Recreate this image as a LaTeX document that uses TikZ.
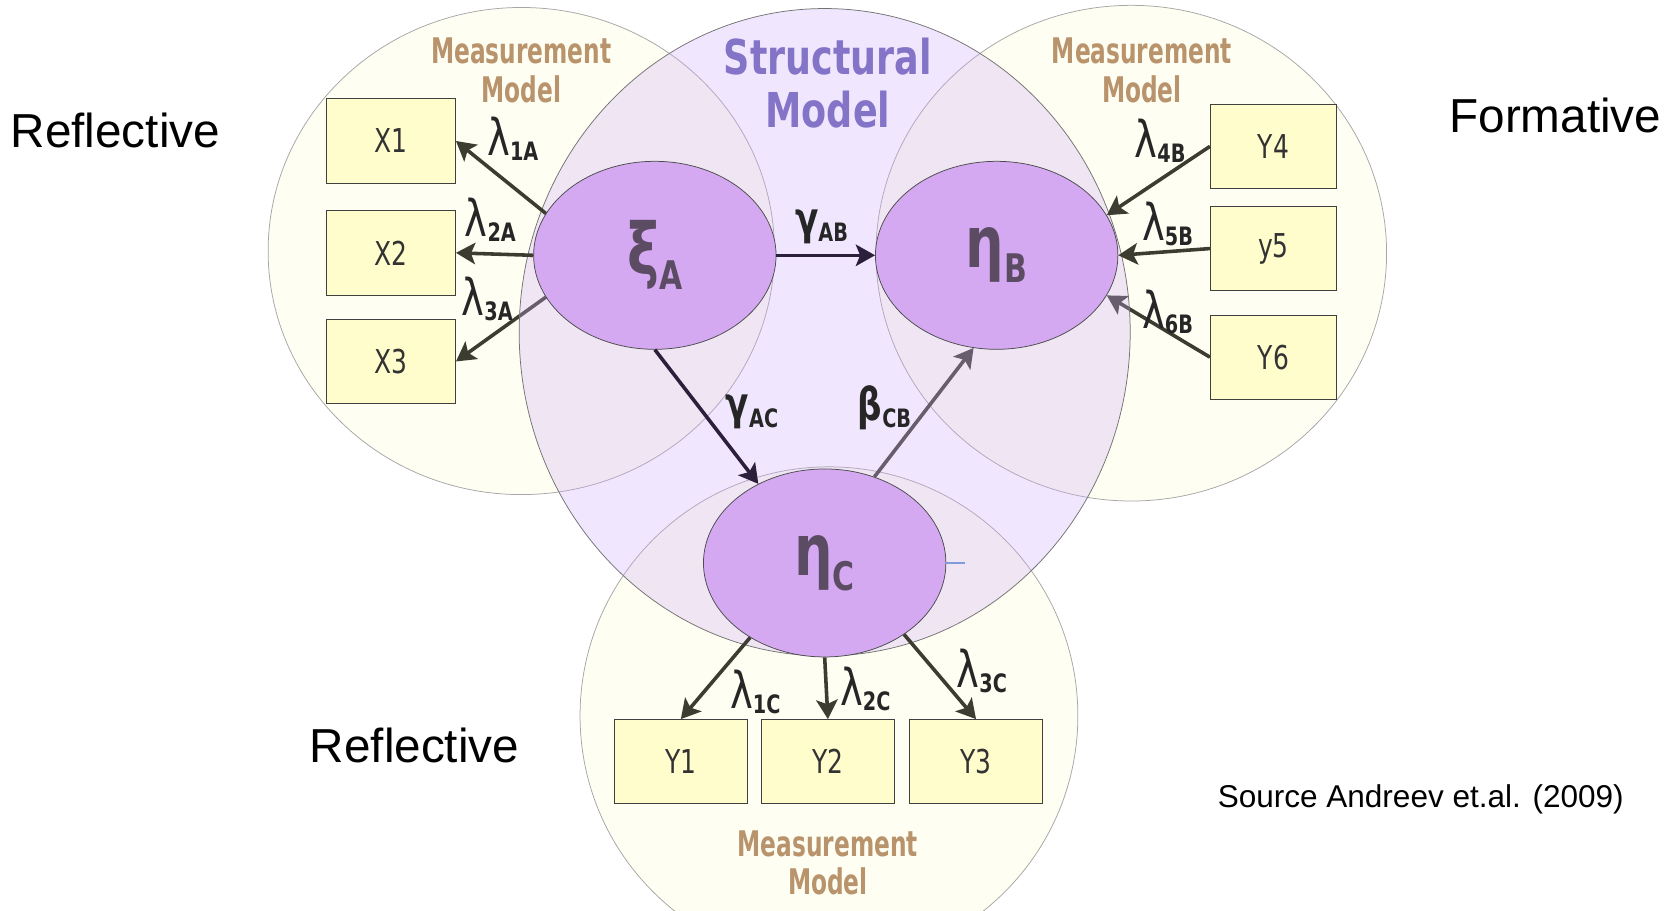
\documentclass[tikz,border=0pt]{standalone}
\usepackage{fontspec}
\setmainfont{Liberation Sans}
\newfontfamily\condfont[FakeStretch=0.76]{DejaVu Sans}
\newfontfamily\measfont[FakeStretch=0.66]{DejaVu Sans}
\usetikzlibrary{positioning, arrows.meta, shapes.geometric}

\definecolor{paleyellow}{HTML}{FEFEF2}
\definecolor{boxfill}{HTML}{FFFDCC}
\definecolor{latentfill}{HTML}{D4A9F2}
\definecolor{structfill}{HTML}{CDACF8}
\definecolor{measbrown}{HTML}{B8936B}
\definecolor{structblue}{HTML}{8474C8}
\definecolor{greekgray}{HTML}{5C4C63}
\definecolor{loaddark}{HTML}{3C3C30}
\definecolor{pathdark}{HTML}{2B1F3B}
\definecolor{stubblue}{HTML}{7E9BDB}

\pgfdeclarelayer{circles}
\pgfdeclarelayer{under}
\pgfdeclarelayer{veil}
\pgfsetlayers{circles,under,veil,main}

% loading and path coefficients
\newcommand{\lam}[1]{{\fontsize{27}{29}\selectfont λ}\raisebox{-2.6pt}{\bfseries\fontsize{13.5}{15}\selectfont #1}}
\newcommand{\coef}[2]{{\bfseries\fontsize{24}{26}\selectfont #1}\raisebox{-3.8pt}{\bfseries\fontsize{13.5}{15}\selectfont #2}}
\newcommand{\lv}[2]{{\bfseries\fontsize{38}{40}\selectfont #1}\raisebox{-8pt}{\bfseries\fontsize{21}{22}\selectfont #2}}

\begin{document}
\begin{tikzpicture}[
  x=0.02cm, y=-0.02cm,
  >={Stealth[length=3.6mm, width=4mm, inset=0.8mm]},
  latent/.style={ellipse, draw=black!70, fill=latentfill, minimum width=4.54cm,
                 minimum height=3.52cm, inner sep=0pt, text=greekgray, font=\condfont},
  indicator/.style={draw=black!75, fill=boxfill, minimum width=2.42cm,
                    minimum height=1.58cm, inner sep=0pt, text=black!80,
                    font=\condfont\fontsize{17.5}{19}\selectfont},
  zone/.style={fill=paleyellow, draw=black!35, line width=0.4pt},
  meas/.style={align=center, text=measbrown, inner sep=0pt,
               font=\measfont\bfseries\fontsize{18.8}{20.5}\selectfont},
  coefl/.style={inner sep=0pt, text=black!85, font=\condfont},
  side/.style={inner sep=0pt, font=\fontsize{25.4}{28}\selectfont},
  load/.style={->, line width=1.9pt, draw=loaddark, fill=loaddark},
  struct/.style={->, line width=1.9pt, draw=pathdark, fill=pathdark},
]
\useasboundingbox (0,0) rectangle (1568,852);
% ---- latent variables ----
\node[latent] (xiA) at (613,239) {\lv{ξ}{A}};
\node[latent] (etaB) at (933,239) {\lv{η}{B}};
\node[latent] (etaC) at (772,527) {\lv{η}{C}};
% ---- indicators ----
\node[indicator] (X1) at (366,132) {X1};
\node[indicator, below=0.5cm of X1] (X2) {X2};
\node[indicator, below=0.44cm of X2] (X3) {X3};
\node[indicator, minimum width=2.36cm] (Y4) at (1192,137) {Y4};
\node[indicator, minimum width=2.36cm, below=0.32cm of Y4] (y5) {y5};
\node[indicator, minimum width=2.36cm, below=0.44cm of y5] (Y6) {Y6};
\node[indicator, minimum width=2.5cm] (Y2) at (775,713) {Y2};
\node[indicator, minimum width=2.5cm, left=0.24cm of Y2] (Y1) {Y1};
\node[indicator, minimum width=2.5cm, right=0.26cm of Y2] (Y3) {Y3};
% ---- model areas ----
\begin{pgfonlayer}{circles}
  \filldraw[zone] (488,235) ellipse [x radius=237, y radius=228];
  \filldraw[zone] (1059,237) ellipse [x radius=239, y radius=232];
  \filldraw[zone] (776,670) ellipse [x radius=233, y radius=233];
\end{pgfonlayer}
\begin{pgfonlayer}{veil}
  \filldraw[fill=structfill, fill opacity=0.3, draw=black!55, line width=0.4pt]
    (772,311) ellipse [x radius=286, y radius=303];
\end{pgfonlayer}
\node[meas] (mmA) at (488,66) {Measurement\\Model};
\node[meas] (mmB) at (1069,66) {Measurement\\Model};
\node[meas] (mmC) at (775,808) {Measurement\\Model};
\node[align=center, inner sep=0pt, text=structblue,
      font=\condfont\bfseries\fontsize{25.6}{28.5}\selectfont] (sm) at (775,78) {Structural\\Model};
% ---- arrows ----
\draw[load] (xiA.159) -- (X1.east);
\draw[load] (xiA.west) -- (X2.east);
\draw[struct] (xiA.east) -- (etaB.west);
\draw[struct] (xiA.south) -- (etaC.130);
\draw[load] (Y4.west) -- (etaB.20);
\draw[load] (y5.west) -- (etaB.east);
\draw[load] (etaC.225) -- (Y1.north);
\draw[load] (etaC.south) -- (Y2.north);
\draw[load] (etaC.318) -- (Y3.north);
\begin{pgfonlayer}{under}
  \draw[load] (xiA.201) -- (X3.east);
  \draw[load] (Y6.west) -- (etaB.340);
  \draw[load] (etaC.60) -- (etaB.256);
\end{pgfonlayer}
\coordinate (stub) at (903,527);
\draw[stubblue, line width=0.6pt] (etaC.east) -- (stub);
% ---- coefficients ----
\node[coefl] (l1A) at (480,130) {\lam{1A}};
\node[coefl] (l2A) at (459,206) {\lam{2A}};
\node[coefl] (l3A) at (456,280) {\lam{3A}};
\node[coefl] (gAB) at (769,212) {\coef{γ}{AB}};
\node[coefl] (gAC) at (704,386) {\coef{γ}{AC}};
\node[coefl] (bCB) at (828,382) {\coef{β}{CB}};
\node[coefl] (l4B) at (1086,132) {\lam{4B}};
\node[coefl] (l5B) at (1093,210) {\lam{5B}};
\node[coefl] (l6B) at (1093,292) {\lam{6B}};
\node[coefl] (l1C) at (707,648) {\lam{1C}};
\node[coefl] (l2C) at (810,645) {\lam{2C}};
\node[coefl] (l3C) at (919,628) {\lam{3C}};
% ---- captions ----
\node[side] (refl1) at (108,122) {Reflective};
\node[side] (form) at (1456,108) {Formative};
\node[side] (refl2) at (388,698) {Reflective};
\node[inner sep=0pt, font=\fontsize{16.8}{19}\selectfont] (source) at (1330,748) {Source Andreev et.al. (2009)};
\end{tikzpicture}
\end{document}
